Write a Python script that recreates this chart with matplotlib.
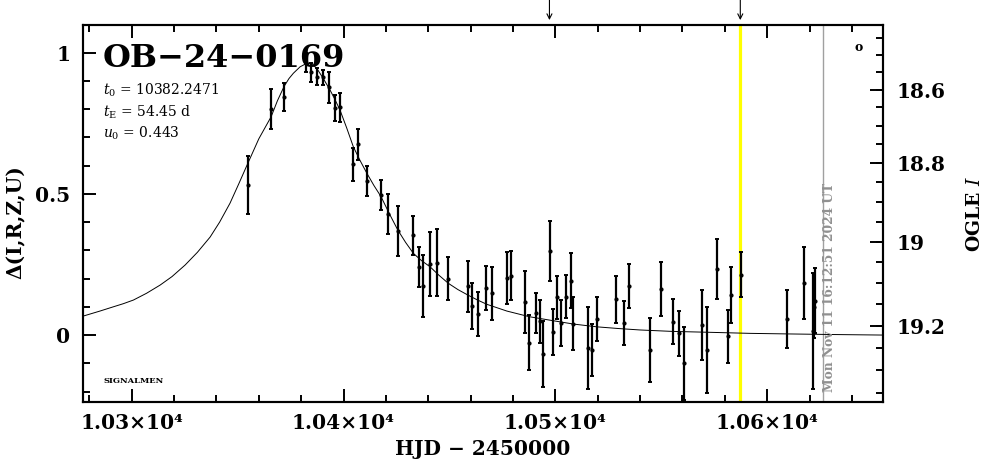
import numpy as np
import matplotlib
matplotlib.use("Agg")
import matplotlib.pyplot as plt
from matplotlib.ticker import FixedLocator, MultipleLocator, FuncFormatter

plt.rcParams["font.family"] = ["DejaVu Serif", "DejaVu Sans"]
plt.rcParams["mathtext.fontset"] = "dejavuserif"

EVENT = "OB\u221224\u22120169"
PARAM_LINES = [r"$t_0$ = 10382.2471", r"$t_{\rm E}$ = 54.45 d", r"$u_0$ = 0.443"]

# photometry: HJD-2450000, normalised flux Delta, error
hjd = [10354.8, 10365.8, 10371.9, 10382.3, 10384.7, 10387.6, 10390.5, 10393.3,
       10396.0, 10398.3, 10404.6, 10406.7, 10411.0, 10417.7, 10420.9, 10425.6,
       10433.0, 10435.6, 10437.7, 10440.8, 10444.0, 10449.5, 10458.6, 10460.8,
       10463.6, 10467.4, 10470.0, 10477.1, 10478.9, 10485.7, 10487.7, 10490.9,
       10492.8, 10494.3, 10497.5, 10498.8, 10500.9, 10502.7, 10504.9, 10507.4,
       10508.5, 10515.6, 10517.5, 10519.8, 10528.5, 10532.6, 10534.8, 10544.7,
       10549.8, 10555.4, 10558.5, 10560.8, 10569.4, 10571.8, 10576.5, 10581.7,
       10582.8, 10587.5, 10609.5, 10617.4, 10621.5, 10622.1, 10622.8]
delta = [0.531, 0.799, 0.844, 0.965, 0.930, 0.915, 0.912, 0.877,
         0.804, 0.806, 0.605, 0.675, 0.546, 0.496, 0.428, 0.369,
         0.353, 0.242, 0.174, 0.252, 0.256, 0.199, 0.173, 0.103,
         0.075, 0.167, 0.148, 0.201, 0.210, 0.118, -0.027, 0.077,
         0.049, -0.067, 0.298, 0.010, 0.133, 0.043, 0.135, 0.192,
         0.040, -0.047, -0.054, 0.057, 0.127, 0.043, 0.173, -0.053,
         0.164, 0.047, 0.006, -0.100, 0.035, -0.052, 0.233, -0.004,
         0.143, 0.213, 0.057, 0.185, 0.013, 0.100, 0.121]
delta_err = [0.102, 0.071, 0.050, 0.035, 0.033, 0.030, 0.027, 0.056,
             0.047, 0.050, 0.059, 0.055, 0.054, 0.053, 0.071, 0.089,
             0.070, 0.071, 0.109, 0.114, 0.118, 0.076, 0.090, 0.082,
             0.079, 0.078, 0.094, 0.092, 0.086, 0.109, 0.097, 0.071,
             0.076, 0.118, 0.107, 0.081, 0.077, 0.081, 0.076, 0.097,
             0.093, 0.145, 0.092, 0.079, 0.083, 0.078, 0.078, 0.112,
             0.096, 0.079, 0.080, 0.130, 0.124, 0.152, 0.106, 0.094,
             0.099, 0.080, 0.102, 0.128, 0.205, 0.110, 0.115]

# model light curve
model_hjd = [10277.0, 10285.0, 10291.3, 10296.0, 10300.8, 10307.0, 10313.4,
             10319.0, 10325.2, 10331.0, 10337.0, 10341.5, 10346.4, 10350.5,
             10354.8, 10360.0, 10365.8, 10368.8, 10371.9, 10374.2, 10376.3,
             10379.5, 10382.6, 10384.6, 10387.3, 10390.3, 10393.6, 10396.0,
             10398.3, 10401.5, 10404.6, 10407.8, 10411.0, 10414.3, 10417.7,
             10421.6, 10425.6, 10429.3, 10433.0, 10436.9, 10440.8, 10445.0,
             10449.5, 10454.0, 10458.6, 10463.0, 10467.6, 10477.1, 10487.7,
             10498.8, 10508.5, 10519.8, 10530.0, 10540.0, 10555.0, 10571.5,
             10592.0, 10610.0, 10629.7, 10654.7]
model_delta = [0.067, 0.085, 0.100, 0.111, 0.124, 0.148, 0.177,
               0.207, 0.248, 0.293, 0.347, 0.400, 0.467, 0.535,
               0.608, 0.695, 0.773, 0.830, 0.880, 0.908, 0.927,
               0.950, 0.962, 0.962, 0.945, 0.910, 0.868, 0.833,
               0.797, 0.733, 0.667, 0.618, 0.573, 0.530, 0.490,
               0.430, 0.372, 0.328, 0.289, 0.263, 0.242, 0.212,
               0.183, 0.161, 0.142, 0.125, 0.109, 0.085, 0.065,
               0.051, 0.039, 0.029, 0.023, 0.018, 0.013, 0.010,
               0.006, 0.004, 0.002, 0.000]

# right-hand OGLE I scale (tick values and where they sit on the Delta axis)
ogle_mag = [18.6, 18.8, 19.0, 19.2]
ogle_labels = ["18.6", "18.8", "19", "19.2"]
ogle_pos = [0.869, 0.609, 0.331, 0.032]

now_hjd = 10587.3
arrow_hjd = [10497.2, 10587.3]
stamp_hjd = 10626.4
stamp_text = "Mon Nov 11 16:12:51 2024 UT"

fig = plt.figure(figsize=(9.86, 4.59), dpi=100)
ax = fig.add_axes([0.0842, 0.1242, 0.8114, 0.8214])

ax.axvline(now_hjd, color="#ffff00", lw=2.3, zorder=1)
ax.axvline(stamp_hjd, color="#a0a0a0", lw=1.0, zorder=1)
ax.plot(model_hjd, model_delta, color="k", lw=0.7, zorder=2)
ax.errorbar(hjd, delta, yerr=delta_err, fmt="o", ms=2, color="k",
            elinewidth=1.6, capsize=1.5, capthick=1.4, zorder=3)

ax.set_xlim(10277.0, 10654.7)
ax.set_ylim(-0.237, 1.098)

ax.xaxis.set_major_locator(MultipleLocator(100))
ax.xaxis.set_minor_locator(MultipleLocator(20))
ax.xaxis.set_major_formatter(FuncFormatter(lambda v, p: f"{v/1e4:.2f}\u00d710\u2074"))
ax.yaxis.set_major_locator(FixedLocator([0, 0.5, 1]))
ax.yaxis.set_major_formatter(FuncFormatter(lambda v, p: f"{v:g}"))
ax.yaxis.set_minor_locator(MultipleLocator(0.1))
ax.tick_params(which="both", direction="in", top=True, right=False, width=1.4)
ax.tick_params(which="major", length=9.5, labelsize=14.5)
ax.tick_params(which="minor", length=5)
ax.tick_params(axis="x", pad=8)
ax.tick_params(axis="y", pad=9)
for lab in ax.get_xticklabels() + ax.get_yticklabels():
    lab.set_fontweight("bold")
for s in ax.spines.values():
    s.set_linewidth(1.5)

# OGLE magnitude axis on the right
ax2 = ax.twinx()
ax2.set_ylim(ax.get_ylim())
coef = np.polyfit(ogle_mag, ogle_pos, 2)
minor_mags = np.arange(18.45, 19.40, 0.05)
ax2.yaxis.set_major_locator(FixedLocator(ogle_pos))
ax2.yaxis.set_minor_locator(FixedLocator(np.polyval(coef, minor_mags)))
ax2.set_yticklabels(ogle_labels, fontweight="bold")
ax2.tick_params(which="both", direction="in", width=1.4, pad=10)
ax2.tick_params(which="major", length=9.5, labelsize=14.5)
ax2.tick_params(which="minor", length=5)
for s in ax2.spines.values():
    s.set_linewidth(1.5)

# labels
fig.text(15.5 / 986, 1 - 222 / 459, "\u0394(I,R,Z,U)", rotation=90,
         ha="center", va="center", fontsize=14.5, fontweight="bold")
fig.text(975 / 986, 1 - 214 / 459, r"OGLE $\mathit{I}$", rotation=90,
         ha="center", va="center", fontsize=13.5, fontweight="bold")
fig.text(483 / 986, 1 - 449 / 459, "HJD \u2212 2450000",
         ha="center", va="center", fontsize=14.5, fontweight="bold")

ax.text(0.025, 0.8886, EVENT, transform=ax.transAxes, fontsize=23,
        fontweight="bold", va="baseline", ha="left", zorder=4)
for yy, line in zip([0.814, 0.756, 0.700], PARAM_LINES):
    ax.text(0.025, yy, line, transform=ax.transAxes, fontsize=10,
            va="baseline", ha="left")
ax.text(0.026, 0.050, "SIGNALMEN", transform=ax.transAxes, fontsize=6,
        fontweight="bold", va="baseline", ha="left")
ax.text(0.969, 0.939, "o", transform=ax.transAxes, fontsize=9,
        fontweight="bold", ha="center", va="center")
ax.text(stamp_hjd + 2.8, -0.2, stamp_text, rotation=90, color="#909090",
        fontsize=8.8, fontweight="bold", ha="center", va="bottom")

for t in arrow_hjd:
    ax.annotate("", xy=(t, 1.013), xycoords=ax.get_xaxis_transform(),
                xytext=(t, 1.07), textcoords=ax.get_xaxis_transform(),
                arrowprops=dict(arrowstyle="->", lw=0.8, color="k",
                                shrinkA=0, shrinkB=0, mutation_scale=9),
                annotation_clip=False)

fig.savefig("out.png", dpi=100)
